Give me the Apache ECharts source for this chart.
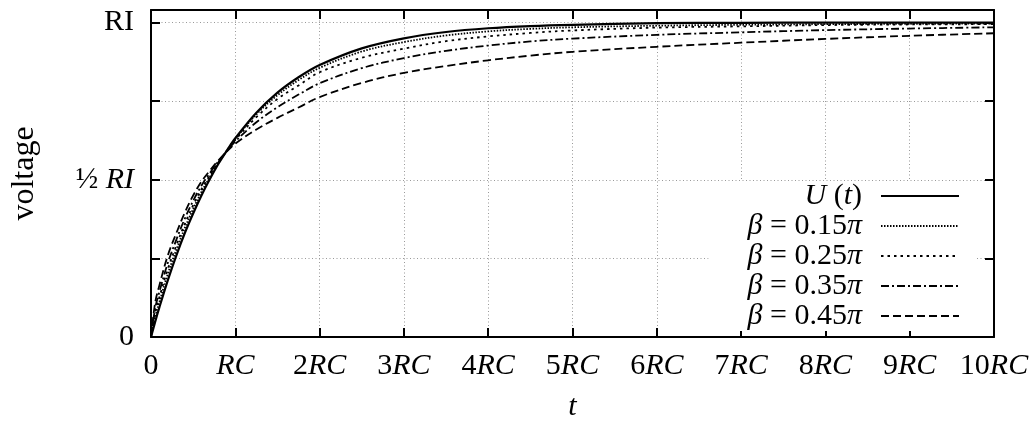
<!DOCTYPE html>
<html><head><meta charset="utf-8">
<script src="https://cdn.jsdelivr.net/npm/echarts@6/dist/echarts.min.js"></script>
<style>html,body{margin:0;padding:0;background:#fff}#c{width:1036px;height:421px}</style>
</head><body><div id="c"></div>
<script>
// time in units of RC
const tValues = [0, 0.05, 0.1, 0.2, 0.3, 0.4, 0.5, 0.6, 0.7, 0.8, 0.9, 1, 1.25, 1.5, 1.75, 2, 2.5, 3, 3.5, 4, 4.5, 5, 6, 7, 8, 9, 10];
// voltage in units of RI
const uValues      = [0, 0.049, 0.095, 0.181, 0.259, 0.330, 0.393, 0.451, 0.503, 0.551, 0.593, 0.632, 0.713, 0.777, 0.826, 0.865, 0.918, 0.950, 0.970, 0.982, 0.989, 0.993, 0.998, 0.999, 1.0, 1.0, 1.0];
const beta15Values = [0, 0.064, 0.112, 0.201, 0.277, 0.346, 0.407, 0.462, 0.510, 0.554, 0.593, 0.630, 0.708, 0.769, 0.817, 0.856, 0.908, 0.938, 0.959, 0.972, 0.980, 0.985, 0.990, 0.993, 0.995, 0.996, 0.997];
const beta25Values = [0, 0.076, 0.127, 0.217, 0.291, 0.359, 0.419, 0.471, 0.515, 0.556, 0.592, 0.627, 0.699, 0.757, 0.800, 0.842, 0.888, 0.917, 0.941, 0.956, 0.967, 0.975, 0.984, 0.988, 0.992, 0.994, 0.995];
const beta35Values = [0, 0.092, 0.144, 0.236, 0.309, 0.376, 0.433, 0.482, 0.522, 0.559, 0.591, 0.622, 0.683, 0.731, 0.771, 0.807, 0.855, 0.887, 0.910, 0.927, 0.940, 0.949, 0.961, 0.969, 0.976, 0.981, 0.985];
const beta45Values = [0, 0.110, 0.165, 0.260, 0.330, 0.395, 0.450, 0.495, 0.530, 0.562, 0.590, 0.615, 0.660, 0.697, 0.730, 0.763, 0.808, 0.840, 0.862, 0.880, 0.895, 0.907, 0.923, 0.936, 0.948, 0.958, 0.966];

const seriesNames = ['U (t)', 'β = 0.15π', 'β = 0.25π', 'β = 0.35π', 'β = 0.45π'];
const legendRich = ['{i|U} ({i|t})', '{i|β} = 0.15{i|π}', '{i|β} = 0.25{i|π}', '{i|β} = 0.35{i|π}', '{i|β} = 0.45{i|π}'];
const xTickLabels = ['0', 'RC', '2RC', '3RC', '4RC', '5RC', '6RC', '7RC', '8RC', '9RC', '10RC'];
const yTickValues = [0, 0.5, 1];
const yTickLabels = ['0', '{f|½} {i|RI}', 'RI'];
const xName = 't';
const yName = 'voltage';

const FONT = 'Liberation Serif';
const FS = 30;
const rich = {
  i: {fontFamily: FONT, fontStyle: 'italic', fontSize: FS, color: '#000'},
  f: {fontFamily: FONT, fontSize: FS, color: '#000'}
};
const valuesList = [uValues, beta15Values, beta25Values, beta35Values, beta45Values];
const dashes = ['solid', [1.5, 1.5], [2.5, 4], [8, 3, 2, 3], [8, 4]];
const widths = [2.2, 1.8, 1.8, 1.8, 1.8];

const frameLine = {show: true, onZero: false, lineStyle: {color: '#000', width: 2}};
const tick = {show: true, inside: true, length: 9, lineStyle: {color: '#000', width: 2}};
const grid = {show: true, lineStyle: {color: '#999', width: 1, type: [1, 2.5]}};

const chart = echarts.init(document.getElementById('c'), null, {renderer: 'canvas'});
chart.setOption({
  animation: false,
  backgroundColor: '#fff',
  grid: {left: 151, right: 42, top: 10, bottom: 84, containLabel: false, outerBoundsMode: 'none'},
  legend: {
    orient: 'vertical', right: 59, top: 181, align: 'right',
    padding: [0, 17, 0, 39], backgroundColor: '#fff',
    itemWidth: 78, itemHeight: 14, itemGap: 0,
    itemStyle: {opacity: 0},
    data: seriesNames,
    formatter: n => legendRich[seriesNames.indexOf(n)],
    textStyle: {fontFamily: FONT, fontSize: FS, color: '#000', padding: [0, 14, 0, 0], rich: rich}
  },
  xAxis: [
    {type: 'value', min: 0, max: 10, interval: 1, position: 'bottom',
     axisLine: frameLine, axisTick: tick, splitLine: grid,
     name: xName, nameLocation: 'middle', nameGap: 55,
     nameTextStyle: {fontFamily: FONT, fontStyle: 'italic', fontSize: FS, color: '#000'},
     axisLabel: {margin: 14, fontFamily: FONT, fontSize: FS, color: '#000', rich: rich,
       formatter: v => { const s = xTickLabels[Math.round(v)] || ''; return s.replace('RC', '{i|RC}'); }}},
    {type: 'value', min: 0, max: 10, interval: 1, position: 'top',
     axisLine: frameLine, axisTick: tick, splitLine: {show: false}, axisLabel: {show: false}}
  ],
  yAxis: [
    {type: 'value', min: 0, max: 1.04, interval: 0.25, position: 'left',
     axisLine: frameLine, axisTick: tick, splitLine: grid,
     name: yName, nameLocation: 'middle', nameGap: 110, nameRotate: 90,
     nameTextStyle: {fontFamily: FONT, fontSize: 32, color: '#000'},
     axisLabel: {margin: 17, fontFamily: FONT, fontSize: FS, color: '#000', rich: rich,
       formatter: v => { const k = yTickValues.findIndex(y => Math.abs(y - v) < 1e-6); return k >= 0 ? yTickLabels[k] : ''; }}},
    {type: 'value', min: 0, max: 1.04, interval: 0.25, position: 'right',
     axisLine: frameLine, axisTick: tick, splitLine: {show: false}, axisLabel: {show: false}}
  ],
  series: seriesNames.map((name, k) => ({
    name: name, type: 'line', symbol: 'none', smooth: 0.35,
    z: 10 - k,
    lineStyle: {color: '#000', width: widths[k], type: dashes[k]},
    itemStyle: {color: '#000'},
    data: tValues.map((t, j) => [t, valuesList[k][j]])
  }))
});
</script></body></html>
